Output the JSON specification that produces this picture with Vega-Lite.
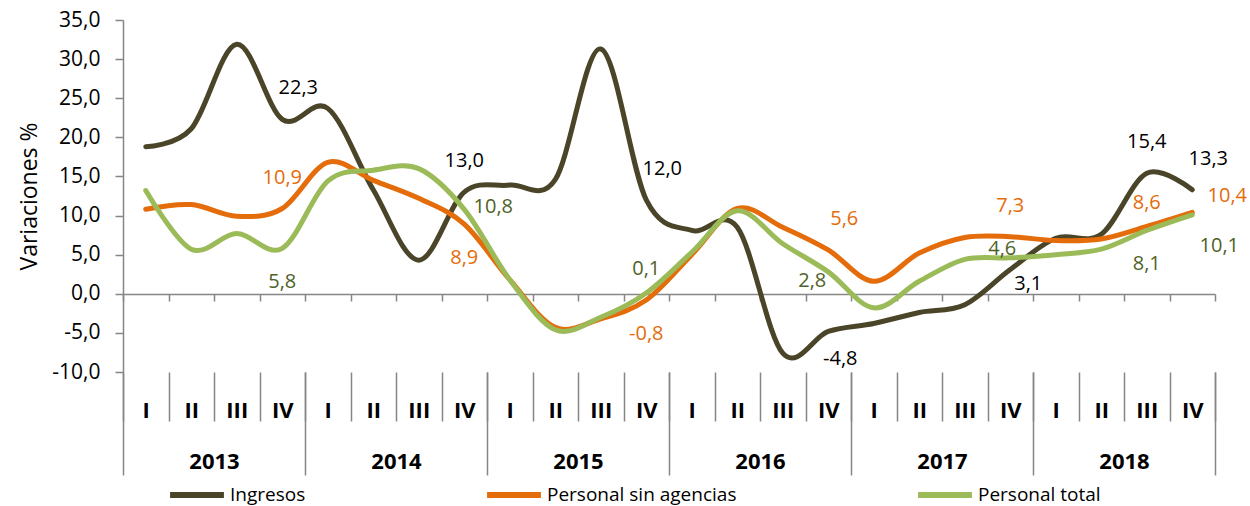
{
  "$schema": "https://vega.github.io/schema/vega-lite/v6.json",
  "width": 1092,
  "height": 352,
  "autosize": {"type": "none"},
  "padding": {"left": 123, "top": 20, "right": 35, "bottom": 134},
  "config": {
    "font": "Open Sans",
    "view": {"stroke": null},
    "locale": {"number": {"decimal": ",", "thousands": ".", "grouping": [3], "currency": ["", " €"], "minus": "-"}}
  },
  "data": {"values": [
    {"s":"Ingresos","k":0,"t":"2013 I","year":"2013","v":18.8},
    {"s":"Ingresos","k":1,"t":"2013 II","year":"2013","v":21.1},
    {"s":"Ingresos","k":2,"t":"2013 III","year":"2013","v":31.9},
    {"s":"Ingresos","k":3,"t":"2013 IV","year":"2013","v":22.3},
    {"s":"Ingresos","k":4,"t":"2014 I","year":"2014","v":23.7},
    {"s":"Ingresos","k":5,"t":"2014 II","year":"2014","v":13.3},
    {"s":"Ingresos","k":6,"t":"2014 III","year":"2014","v":4.3},
    {"s":"Ingresos","k":7,"t":"2014 IV","year":"2014","v":13.0},
    {"s":"Ingresos","k":8,"t":"2015 I","year":"2015","v":13.9},
    {"s":"Ingresos","k":9,"t":"2015 II","year":"2015","v":14.6},
    {"s":"Ingresos","k":10,"t":"2015 III","year":"2015","v":31.3},
    {"s":"Ingresos","k":11,"t":"2015 IV","year":"2015","v":12.0},
    {"s":"Ingresos","k":12,"t":"2016 I","year":"2016","v":8.1},
    {"s":"Ingresos","k":13,"t":"2016 II","year":"2016","v":8.5},
    {"s":"Ingresos","k":14,"t":"2016 III","year":"2016","v":-7.6},
    {"s":"Ingresos","k":15,"t":"2016 IV","year":"2016","v":-4.8},
    {"s":"Ingresos","k":16,"t":"2017 I","year":"2017","v":-3.8},
    {"s":"Ingresos","k":17,"t":"2017 II","year":"2017","v":-2.4},
    {"s":"Ingresos","k":18,"t":"2017 III","year":"2017","v":-1.4},
    {"s":"Ingresos","k":19,"t":"2017 IV","year":"2017","v":3.1},
    {"s":"Ingresos","k":20,"t":"2018 I","year":"2018","v":7.1},
    {"s":"Ingresos","k":21,"t":"2018 II","year":"2018","v":7.6},
    {"s":"Ingresos","k":22,"t":"2018 III","year":"2018","v":15.4},
    {"s":"Ingresos","k":23,"t":"2018 IV","year":"2018","v":13.3},
    {"s":"Personal sin agencias","k":0,"t":"2013 I","year":"2013","v":10.8},
    {"s":"Personal sin agencias","k":1,"t":"2013 II","year":"2013","v":11.4},
    {"s":"Personal sin agencias","k":2,"t":"2013 III","year":"2013","v":9.9},
    {"s":"Personal sin agencias","k":3,"t":"2013 IV","year":"2013","v":10.9},
    {"s":"Personal sin agencias","k":4,"t":"2014 I","year":"2014","v":16.8},
    {"s":"Personal sin agencias","k":5,"t":"2014 II","year":"2014","v":14.5},
    {"s":"Personal sin agencias","k":6,"t":"2014 III","year":"2014","v":12.2},
    {"s":"Personal sin agencias","k":7,"t":"2014 IV","year":"2014","v":8.9},
    {"s":"Personal sin agencias","k":8,"t":"2015 I","year":"2015","v":1.8},
    {"s":"Personal sin agencias","k":9,"t":"2015 II","year":"2015","v":-4.3},
    {"s":"Personal sin agencias","k":10,"t":"2015 III","year":"2015","v":-3.2},
    {"s":"Personal sin agencias","k":11,"t":"2015 IV","year":"2015","v":-0.8},
    {"s":"Personal sin agencias","k":12,"t":"2016 I","year":"2016","v":5.0},
    {"s":"Personal sin agencias","k":13,"t":"2016 II","year":"2016","v":10.9},
    {"s":"Personal sin agencias","k":14,"t":"2016 III","year":"2016","v":8.5},
    {"s":"Personal sin agencias","k":15,"t":"2016 IV","year":"2016","v":5.6},
    {"s":"Personal sin agencias","k":16,"t":"2017 I","year":"2017","v":1.6},
    {"s":"Personal sin agencias","k":17,"t":"2017 II","year":"2017","v":5.2},
    {"s":"Personal sin agencias","k":18,"t":"2017 III","year":"2017","v":7.2},
    {"s":"Personal sin agencias","k":19,"t":"2017 IV","year":"2017","v":7.3},
    {"s":"Personal sin agencias","k":20,"t":"2018 I","year":"2018","v":6.8},
    {"s":"Personal sin agencias","k":21,"t":"2018 II","year":"2018","v":7.0},
    {"s":"Personal sin agencias","k":22,"t":"2018 III","year":"2018","v":8.6},
    {"s":"Personal sin agencias","k":23,"t":"2018 IV","year":"2018","v":10.4},
    {"s":"Personal total","k":0,"t":"2013 I","year":"2013","v":13.2},
    {"s":"Personal total","k":1,"t":"2013 II","year":"2013","v":5.7},
    {"s":"Personal total","k":2,"t":"2013 III","year":"2013","v":7.7},
    {"s":"Personal total","k":3,"t":"2013 IV","year":"2013","v":5.8},
    {"s":"Personal total","k":4,"t":"2014 I","year":"2014","v":14.4},
    {"s":"Personal total","k":5,"t":"2014 II","year":"2014","v":15.8},
    {"s":"Personal total","k":6,"t":"2014 III","year":"2014","v":16.0},
    {"s":"Personal total","k":7,"t":"2014 IV","year":"2014","v":10.8},
    {"s":"Personal total","k":8,"t":"2015 I","year":"2015","v":1.8},
    {"s":"Personal total","k":9,"t":"2015 II","year":"2015","v":-4.6},
    {"s":"Personal total","k":10,"t":"2015 III","year":"2015","v":-3.0},
    {"s":"Personal total","k":11,"t":"2015 IV","year":"2015","v":0.1},
    {"s":"Personal total","k":12,"t":"2016 I","year":"2016","v":5.3},
    {"s":"Personal total","k":13,"t":"2016 II","year":"2016","v":10.6},
    {"s":"Personal total","k":14,"t":"2016 III","year":"2016","v":6.4},
    {"s":"Personal total","k":15,"t":"2016 IV","year":"2016","v":2.8},
    {"s":"Personal total","k":16,"t":"2017 I","year":"2017","v":-1.8},
    {"s":"Personal total","k":17,"t":"2017 II","year":"2017","v":1.6},
    {"s":"Personal total","k":18,"t":"2017 III","year":"2017","v":4.4},
    {"s":"Personal total","k":19,"t":"2017 IV","year":"2017","v":4.6},
    {"s":"Personal total","k":20,"t":"2018 I","year":"2018","v":5.0},
    {"s":"Personal total","k":21,"t":"2018 II","year":"2018","v":5.7},
    {"s":"Personal total","k":22,"t":"2018 III","year":"2018","v":8.1},
    {"s":"Personal total","k":23,"t":"2018 IV","year":"2018","v":10.1}
  ]},
  "resolve": {"scale": {"x": "independent"}, "axis": {"x": "independent"}},
  "layer": [
    {
      "encoding": {
        "x": {"field": "k", "type": "quantitative",
          "scale": {"domain": [-0.5, 23.5], "nice": false, "zero": false},
          "axis": {"orient": "bottom", "offset": -78, "values": [-0.5,0.5,1.5,2.5,3.5,4.5,5.5,6.5,7.5,8.5,9.5,10.5,11.5,12.5,13.5,14.5,15.5,16.5,17.5,18.5,19.5,20.5,21.5,22.5,23.5],
            "labels": false, "tickSize": 7, "tickWidth": 1.5, "domainWidth": 1.5, "domainColor": "#868686", "tickColor": "#868686", "title": null, "grid": false}},
        "y": {"field": "v", "type": "quantitative",
          "scale": {"domain": [-10, 35], "nice": false, "zero": false},
          "axis": {"values": [-10,-5,0,5,10,15,20,25,30,35], "format": ".1f", "title": "Variaciones %", "titleFontSize": 23, "titleFontWeight": "normal", "titleColor": "#000", "titlePadding": 10,
            "labelFontSize": 21, "labelColor": "#000", "labelPadding": 15, "tickSize": 8, "tickWidth": 1.5, "domainWidth": 1.5, "tickColor": "#868686", "domainColor": "#868686", "grid": false}}
      },
      "layer": [
        {
          "mark": {"type": "line", "interpolate": "cardinal", "strokeWidth": 5, "strokeCap": "round"},
          "encoding": {
            "color": {"field": "s", "type": "nominal",
              "scale": {"domain": ["Ingresos", "Personal sin agencias", "Personal total"], "range": ["#4A4529", "#E46C0A", "#9BBB59"]},
              "legend": {"orient": "none", "legendX": 44, "legendY": 445, "direction": "horizontal", "title": null,
                "symbolType": "stroke", "symbolSize": 2900, "symbolStrokeWidth": 6, "labelFontSize": 19, "labelColor": "#000", "labelLimit": 500,
                "columnPadding": 169, "padding": 0, "labelOffset": 3}},
            "order": {"field": "k", "type": "quantitative"}
          }
        },
        {
          "transform": [{"filter": "indexof(['Ingresos|7','Ingresos|22','Personal sin agencias|3','Personal sin agencias|19'], datum.s + '|' + datum.k) >= 0"}],
          "mark": {"type": "text", "fontSize": 20, "dx": 0, "dy": -31, "baseline": "middle", "align": "center"},
          "encoding": {"text": {"field": "v", "type": "quantitative", "format": ".1f"},
            "color": {"condition": [{"test": "datum.s == 'Ingresos'", "value": "#000000"}, {"test": "datum.s == 'Personal total'", "value": "#4F6228"}], "value": "#E46C0A"}}
        },
        {
          "transform": [{"filter": "indexof(['Personal sin agencias|22','Personal total|11'], datum.s + '|' + datum.k) >= 0"}],
          "mark": {"type": "text", "fontSize": 20, "dx": 0, "dy": -24, "baseline": "middle", "align": "center"},
          "encoding": {"text": {"field": "v", "type": "quantitative", "format": ".1f"},
            "color": {"condition": [{"test": "datum.s == 'Ingresos'", "value": "#000000"}, {"test": "datum.s == 'Personal total'", "value": "#4F6228"}], "value": "#E46C0A"}}
        },
        {
          "transform": [{"filter": "indexof(['Ingresos|3','Ingresos|11','Personal sin agencias|15','Ingresos|23'], datum.s + '|' + datum.k) >= 0"}],
          "mark": {"type": "text", "fontSize": 20, "dx": 16, "dy": -31, "baseline": "middle", "align": "center"},
          "encoding": {"text": {"field": "v", "type": "quantitative", "format": ".1f"},
            "color": {"condition": [{"test": "datum.s == 'Ingresos'", "value": "#000000"}, {"test": "datum.s == 'Personal total'", "value": "#4F6228"}], "value": "#E46C0A"}}
        },
        {
          "transform": [{"filter": "indexof(['Personal sin agencias|7','Personal sin agencias|11','Personal total|3','Personal total|22'], datum.s + '|' + datum.k) >= 0"}],
          "mark": {"type": "text", "fontSize": 20, "dx": 0, "dy": 34, "baseline": "middle", "align": "center"},
          "encoding": {"text": {"field": "v", "type": "quantitative", "format": ".1f"},
            "color": {"condition": [{"test": "datum.s == 'Ingresos'", "value": "#000000"}, {"test": "datum.s == 'Personal total'", "value": "#4F6228"}], "value": "#E46C0A"}}
        },
        {
          "transform": [{"filter": "datum.s == 'Ingresos' && datum.k == 15"}],
          "mark": {"type": "text", "fontSize": 20, "dx": 12, "dy": 28, "baseline": "middle", "align": "center"},
          "encoding": {"text": {"field": "v", "type": "quantitative", "format": ".1f"}, "color": {"value": "#000000"}}
        },
        {
          "transform": [{"filter": "datum.s == 'Ingresos' && datum.k == 19"}],
          "mark": {"type": "text", "fontSize": 20, "dx": 18, "dy": 14, "baseline": "middle", "align": "center"},
          "encoding": {"text": {"field": "v", "type": "quantitative", "format": ".1f"}, "color": {"value": "#000000"}}
        },
        {
          "transform": [{"filter": "datum.s == 'Personal total' && datum.k == 23"}],
          "mark": {"type": "text", "fontSize": 20, "dx": 27, "dy": 31, "baseline": "middle", "align": "center"},
          "encoding": {"text": {"field": "v", "type": "quantitative", "format": ".1f"}, "color": {"value": "#4F6228"}}
        },
        {
          "transform": [{"filter": "datum.s == 'Personal total' && datum.k == 7"}],
          "mark": {"type": "text", "fontSize": 20, "dx": 29, "dy": -2, "baseline": "middle", "align": "center"},
          "encoding": {"text": {"field": "v", "type": "quantitative", "format": ".1f"}, "color": {"value": "#4F6228"}}
        },
        {
          "transform": [{"filter": "datum.s == 'Personal sin agencias' && datum.k == 23"}],
          "mark": {"type": "text", "fontSize": 20, "dx": 35, "dy": -16, "baseline": "middle", "align": "center"},
          "encoding": {"text": {"field": "v", "type": "quantitative", "format": ".1f"}, "color": {"value": "#E46C0A"}}
        },
        {
          "transform": [{"filter": "datum.s == 'Personal total' && datum.k == 15"}],
          "mark": {"type": "text", "fontSize": 20, "dx": -16, "dy": 9, "baseline": "middle", "align": "center"},
          "encoding": {"text": {"field": "v", "type": "quantitative", "format": ".1f"}, "color": {"value": "#4F6228"}}
        },
        {
          "transform": [{"filter": "datum.s == 'Personal total' && datum.k == 19"}],
          "mark": {"type": "text", "fontSize": 20, "dx": -8, "dy": -9, "baseline": "middle", "align": "center"},
          "encoding": {"text": {"field": "v", "type": "quantitative", "format": ".1f"}, "color": {"value": "#4F6228"}}
        }
      ]
    },
    {
      "mark": {"type": "bar", "opacity": 0},
      "encoding": {
        "x": {"field": "t", "type": "nominal", "sort": {"field": "k"},
          "scale": {"type": "band", "paddingInner": 0, "paddingOuter": 0},
          "axis": {"orient": "bottom", "tickBand": "extent", "tickSize": 49, "tickWidth": 1.5, "tickColor": "#868686", "domain": false,
            "labelExpr": "split(datum.value, ' ')[1]", "labelFontSize": 22, "labelFontWeight": "bold", "labelColor": "#000",
            "labelBaseline": "middle", "labelPadding": -11, "labelAngle": 0, "title": null, "grid": false}}
      }
    },
    {
      "mark": {"type": "bar", "opacity": 0},
      "encoding": {
        "x": {"field": "year", "type": "nominal",
          "scale": {"type": "band", "paddingInner": 0, "paddingOuter": 0},
          "axis": {"orient": "bottom", "tickBand": "extent", "tickSize": 103, "tickWidth": 1.5, "tickColor": "#868686", "domain": false,
            "labelFontSize": 22, "labelFontWeight": "bold", "labelColor": "#000",
            "labelBaseline": "middle", "labelPadding": -14, "labelAngle": 0, "title": null, "grid": false}}
      }
    }
  ]
}
